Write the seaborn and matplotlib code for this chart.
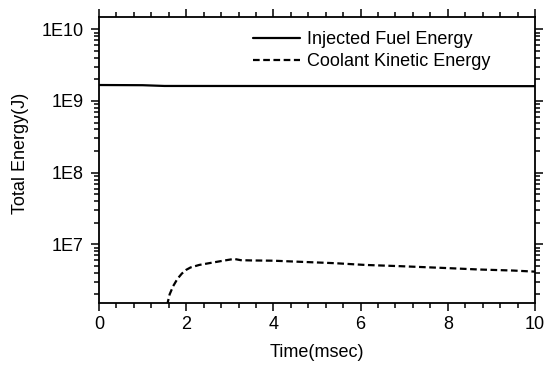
import numpy as np
import pandas as pd
import matplotlib
matplotlib.use("Agg")
import matplotlib.pyplot as plt
import seaborn as sns
from matplotlib.ticker import FixedLocator, LogLocator, MultipleLocator, FuncFormatter, NullFormatter

# ---- data ----
time_fuel = [0.0, 1.0, 1.5, 10.0]
energy_fuel = [1.67e9, 1.66e9, 1.62e9, 1.61e9]

time_cool = [1.56, 1.62, 1.70, 1.80, 1.90, 2.0, 2.1, 2.3, 2.6, 2.85, 3.1, 3.25,
             3.5, 4.0, 4.6, 5.4, 6.1, 6.9, 8.0, 8.7, 9.5, 10.0]
energy_cool = [1.4e6, 2.0e6, 2.6e6, 3.3e6, 3.9e6, 4.4e6, 4.75e6, 5.15e6, 5.55e6,
               5.9e6, 6.25e6, 6.0e6, 5.95e6, 5.9e6, 5.7e6, 5.45e6, 5.15e6, 4.95e6,
               4.65e6, 4.45e6, 4.3e6, 4.15e6]

series_names = ["Injected Fuel Energy", "Coolant Kinetic Energy"]
y_tick_values = [1e7, 1e8, 1e9, 1e10]
y_tick_labels = ["1E7", "1E8", "1E9", "1E10"]
x_label = "Time(msec)"
y_label = "Total Energy(J)"

sns.set_style("ticks")
plt.rcParams['font.family'] = ['Liberation Sans', 'DejaVu Sans']
plt.rcParams['text.color'] = 'black'
plt.rcParams['axes.labelcolor'] = 'black'
plt.rcParams['xtick.color'] = 'black'
plt.rcParams['ytick.color'] = 'black'
FS = 13

df_fuel = pd.DataFrame({"t": time_fuel, "E": energy_fuel})
df_cool = pd.DataFrame({"t": time_cool, "E": energy_cool})

fig = plt.figure(figsize=(5.45, 3.67), dpi=100)
ax = fig.add_axes([99/545, 1-302.5/367, 436/545, 285.8/367])

sns.lineplot(data=df_fuel, x="t", y="E", ax=ax, color="black", lw=1.6,
             label=series_names[0], sort=False, estimator=None)
sns.lineplot(data=df_cool, x="t", y="E", ax=ax, color="black", lw=1.6,
             linestyle=(0, (3.0, 1.6)), label=series_names[1], sort=False, estimator=None)

ax.set_yscale("log")
ax.set_xlim(0, 10)
ax.set_ylim(1.54e6, 1.5e10)

ax.xaxis.set_major_locator(MultipleLocator(2))
ax.xaxis.set_minor_locator(MultipleLocator(0.4))
ax.yaxis.set_major_locator(FixedLocator(y_tick_values))
ax.yaxis.set_major_formatter(FuncFormatter(lambda v, p: y_tick_labels[y_tick_values.index(v)] if v in y_tick_values else ""))
ax.yaxis.set_minor_locator(LogLocator(base=10, subs=np.arange(2, 10)))
ax.yaxis.set_minor_formatter(NullFormatter())

for s in ax.spines.values():
    s.set_visible(True)
    s.set_linewidth(1.3)
    s.set_color("black")

ax.tick_params(which="both", direction="out", top=True, right=True,
               labeltop=False, labelright=False, color="black", labelcolor="black", width=1.1)
ax.tick_params(which="major", length=6)
ax.tick_params(which="minor", length=3.5)
ax.tick_params(axis="x", which="major", labelsize=FS, pad=3.4)
ax.tick_params(axis="y", which="major", labelsize=FS, pad=5.0)

ax.set_xlabel(x_label, fontsize=FS, color="black")
ax.set_ylabel(y_label, fontsize=FS, color="black")
ax.xaxis.set_label_coords(0.5, -0.145)
ax.yaxis.set_label_coords(-0.16, 0.523)

leg = ax.legend(loc="upper left", bbox_to_anchor=(0.353, 0.95), frameon=False,
                fontsize=FS, handlelength=2.6, handletextpad=0.38,
                labelspacing=0.3, borderpad=0, borderaxespad=0)
for t in leg.get_texts():
    t.set_color("black")

fig.savefig("out.png", dpi=100)
